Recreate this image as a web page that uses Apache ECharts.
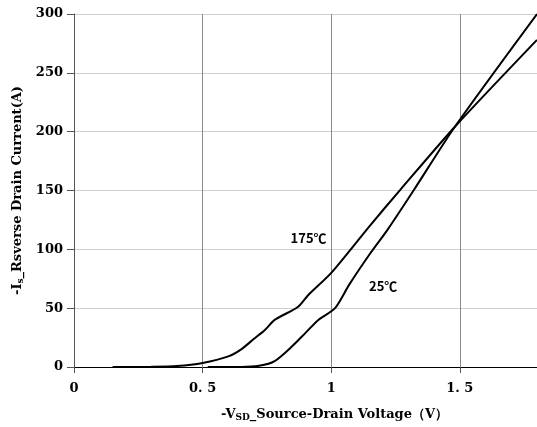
<!DOCTYPE html>
<html><head><meta charset="utf-8">
<script src="https://cdn.jsdelivr.net/npm/echarts@6/dist/echarts.min.js"></script>
<style>html,body{margin:0;padding:0;background:#fff}#c{width:537px;height:427px}</style>
</head><body><div id="c"></div>
<script>
const xTicks = [0, 0.5, 1, 1.5];
const yTicks = [0, 50, 100, 150, 200, 250, 300];
const t175_x = [0.15, 0.3, 0.4, 0.5, 0.6, 0.65, 0.7, 0.74, 0.78, 0.87, 0.91, 1.0, 1.15, 1.27, 1.48, 1.8];
const t175_y = [0, 0.2, 0.8, 3.4, 9, 15, 24, 31, 40, 51, 61, 80, 120, 151, 204, 278];
const t25_x = [0.52, 0.65, 0.72, 0.78, 0.85, 0.9, 0.95, 1.015, 1.07, 1.15, 1.22, 1.32, 1.48, 1.8];
const t25_y = [0, 0, 1, 5, 18, 29, 40, 50, 70, 96, 117, 150, 204, 300];
const labels = ['175℃', '25℃'];
const labelPos = [[0.84, 110], [1.145, 69]];

const zip = (a, b) => a.map((v, i) => [v, b[i]]);
const serif = '"DejaVu Serif", serif';
const chart = echarts.init(document.getElementById('c'));
function mk(name, data, i) {
  return {
    name, type: 'line', data, showSymbol: false, smooth: 0.25,
    lineStyle: { color: '#000', width: 2 },
    markPoint: {
      symbol: 'circle', symbolSize: 1, silent: true,
      itemStyle: { color: 'rgba(0,0,0,0)' },
      data: [{ coord: labelPos[i], value: labels[i] }],
      label: { show: true, position: 'right', distance: 0, formatter: labels[i],
        fontFamily: '"Noto Sans CJK SC", sans-serif', fontWeight: 'bold', fontSize: 13, color: '#000' }
    }
  };
}
chart.setOption({
  animation: false,
  grid: { left: 74, right: 0, top: 14, bottom: 58 },
  xAxis: {
    type: 'value', min: 0, max: 1.8, interval: 0.5,
    name: '-V{s|SD}_Source-Drain Voltage（V）', nameLocation: 'middle', nameGap: 40,
    nameTextStyle: { fontFamily: serif, fontWeight: 'bold', fontSize: 13, color: '#000', padding: [0, 0, 0, 58],
      rich: { s: { fontFamily: serif, fontWeight: 'bold', fontSize: 9, padding: [6, 0, 0, 0], color: '#000' } } },
    axisLine: { lineStyle: { color: '#000', width: 1 } },
    axisTick: { show: true, length: 6, lineStyle: { color: '#555' } },
    axisLabel: { margin: 15, fontFamily: serif, fontWeight: 'bold', fontSize: 13, color: '#000',
      showMaxLabel: false,
      formatter: v => xTicks.includes(v) ? String(v).replace('.', '. ') : '' },
    splitLine: { show: true, showMaxLine: false, lineStyle: { color: '#8a8a8a', width: 1 } }
  },
  yAxis: {
    type: 'value', min: 0, max: 300, interval: 50,
    name: '-I{s|s}_Rsverse Drain Current(A)', nameLocation: 'middle', nameGap: 43,
    nameTextStyle: { fontFamily: serif, fontWeight: 'bold', fontSize: 13, color: '#000',
      rich: { s: { fontFamily: serif, fontWeight: 'bold', fontSize: 9, padding: [6, 0, 0, 0], color: '#000' } } },
    axisLine: { show: true, lineStyle: { color: '#555', width: 1 } },
    axisTick: { show: true, length: 7, lineStyle: { color: '#555' } },
    axisLabel: { margin: 11, fontFamily: serif, fontWeight: 'bold', fontSize: 13, color: '#000',
      formatter: v => yTicks.includes(v) ? String(v) : '' },
    splitLine: { show: true, lineStyle: { color: '#cfcfcf', width: 1 } }
  },
  series: [mk('175℃', zip(t175_x, t175_y), 0), mk('25℃', zip(t25_x, t25_y), 1)]
});
</script></body></html>
